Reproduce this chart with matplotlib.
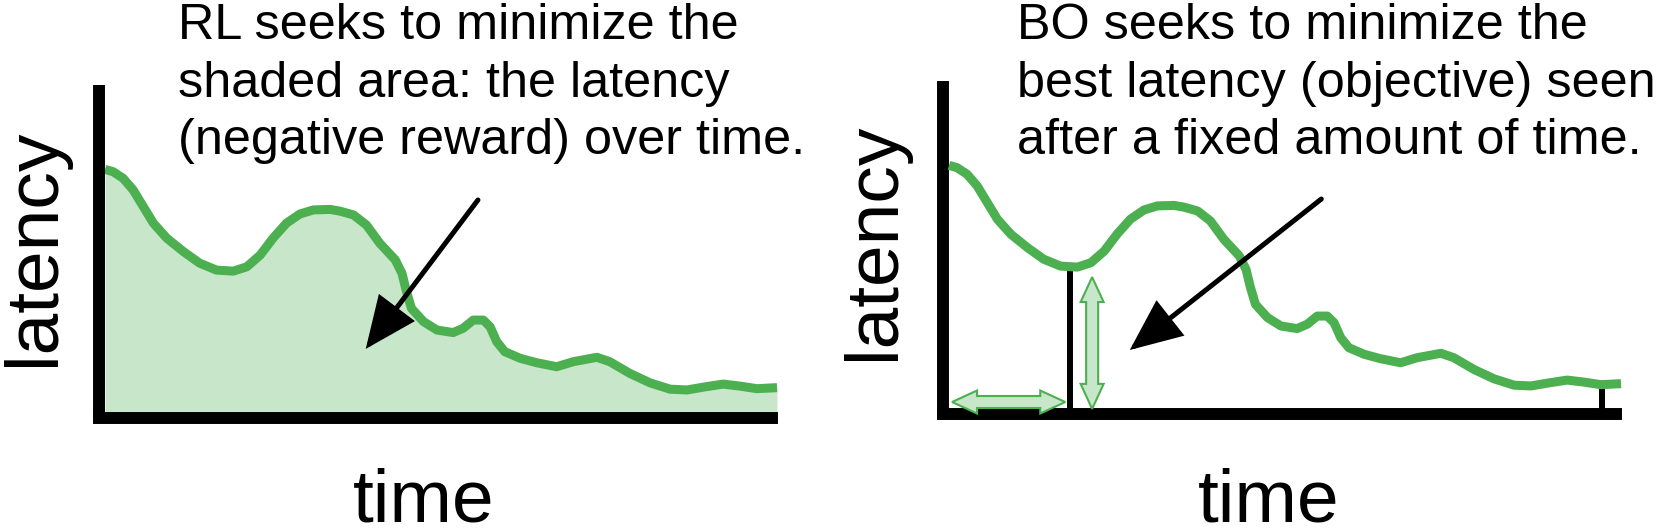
import matplotlib
matplotlib.use('Agg')
import matplotlib.pyplot as plt
import numpy as np
from matplotlib.patches import FancyArrowPatch, Polygon, ArrowStyle
from matplotlib.transforms import IdentityTransform

plt.rcParams['font.family'] = ['Liberation Sans', 'DejaVu Sans']

# ---------------- data ----------------
time_pts = [0.0, 1.2, 2.7, 4.2, 5.7, 7.2, 9.2, 11.7, 14.1, 16.6, 19.1, 21.1,
            23.1, 25.0, 27.0, 29.0, 31.0, 33.5, 35.0, 37.0, 38.9, 40.9, 43.2,
            44.2, 44.8, 45.6, 47.4, 49.4, 51.8, 53.3, 54.8, 56.3, 57.3, 58.3,
            59.5, 61.8, 64.2, 67.2, 69.7, 73.2, 75.1, 78.1, 81.1, 84.1, 86.6,
            89.5, 92.0, 94.5, 97.0, 100.0]
latency_pts = [97.5, 96.6, 94.0, 89.4, 82.9, 76.4, 70.5, 65.2, 60.7, 58.0, 57.6,
               59.3, 63.9, 70.5, 76.4, 80.0, 81.6, 81.8, 81.1, 79.6, 75.7, 68.5,
               62.0, 56.7, 50.2, 43.0, 37.8, 34.5, 33.5, 35.2, 38.4, 38.4, 35.8,
               29.9, 26.0, 23.4, 21.7, 20.1, 22.1, 23.8, 22.1, 17.5, 13.8, 11.3,
               11.0, 12.3, 13.3, 12.5, 11.5, 11.9]

best_time = 18.0          # time at which BO's best latency is seen
budget_end = 97.2         # fixed amount of time

rl_lines = ["RL seeks to minimize the",
            "shaded area: the latency",
            "(negative reward) over time."]
bo_lines = ["BO seeks to minimize the",
            "best latency (objective) seen",
            "after a fixed amount of time."]

rl_arrow = [(55.5, 85.5), (38.8, 27.1)]
bo_arrow = [(55.4, 84.3), (26.9, 25.1)]
h_double_arrow = [(0.45, 4.7), (17.3, 4.7)]
v_double_arrow = [(21.3, 2.0), (21.3, 53.7)]

GREEN = '#4caf50'
LIGHT = '#c8e6c9'

W, H = 1661, 530
fig = plt.figure(figsize=(W / 100, H / 100), dpi=100)


def px_axes(left, right, top, bottom):
    ax = fig.add_axes([left / W, 1 - bottom / H, (right - left) / W, (bottom - top) / H])
    ax.set_xlim(-6 / 6.72, (right - left - 6) / 6.72)
    ax.set_ylim(0, (bottom - top) / 2.55)
    for s in ('top', 'right'):
        ax.spines[s].set_visible(False)
    for s in ('left', 'bottom'):
        ax.spines[s].set_linewidth(8.6)
        ax.spines[s].set_color('black')
    ax.spines['bottom'].set_capstyle('projecting')
    ax.spines['left'].set_capstyle('butt')
    ax.set_xticks([])
    ax.set_yticks([])
    ax.patch.set_alpha(0)
    return ax


def double_arrow(ax, p0, p1):
    a = ax.transData.transform(p0)
    b = ax.transData.transform(p1)
    u = (b - a) / np.linalg.norm(b - a)
    n = np.array([-u[1], u[0]])
    hl, hw, sw = 25, 11.5, 6
    pts = [a, a + u * hl + n * hw, a + u * hl + n * sw, b - u * hl + n * sw,
           b - u * hl + n * hw, b, b - u * hl - n * hw, b - u * hl - n * sw,
           a + u * hl - n * sw, a + u * hl - n * hw]
    poly = Polygon(pts, closed=True, facecolor=LIGHT, edgecolor=GREEN,
                   linewidth=1.5, transform=IdentityTransform(), clip_on=False,
                   zorder=4)
    ax.add_patch(poly)


def black_arrow(ax, p0, p1):
    arr = FancyArrowPatch(posA=p0, posB=p1,
                          arrowstyle=ArrowStyle('-|>', head_length=31, head_width=13.5),
                          mutation_scale=1, lw=3.6, color='black',
                          shrinkA=0, shrinkB=0, zorder=6, joinstyle='miter')
    ax.add_patch(arr)


t = np.array(time_pts)
lat = np.array(latency_pts)

# ---------------- left panel (RL) ----------------
ax1 = px_axes(99, 772, 85, 418)
ax1.fill_between(t, 0, lat, color=LIGHT, linewidth=0, zorder=1, clip_on=False)
ax1.plot(t, lat, color=GREEN, lw=6.5, solid_joinstyle='round',
         solid_capstyle='butt', zorder=2, clip_on=False)
black_arrow(ax1, *rl_arrow)

# ---------------- right panel (BO) ----------------
ax2 = px_axes(943, 1616, 81, 414)
ax2.plot(t, lat, color=GREEN, lw=6.5, solid_joinstyle='round',
         solid_capstyle='butt', zorder=3, clip_on=False)
best_lat = np.interp(best_time, t, lat)
end_lat = np.interp(budget_end, t, lat)
ax2.plot([best_time, best_time], [0, best_lat], color='black', lw=4.3, zorder=2,
         solid_capstyle='butt')
ax2.plot([budget_end, budget_end], [0, end_lat], color='black', lw=4.3, zorder=2,
         solid_capstyle='butt')
double_arrow(ax2, *h_double_arrow)
double_arrow(ax2, *v_double_arrow)
black_arrow(ax2, *bo_arrow)

# ---------------- text ----------------
FS = 36.3
baselines = [39, 97, 154]
for line, yb in zip(rl_lines, baselines):
    fig.text(178 / W, 1 - yb / H, line, fontsize=FS, ha='left', va='baseline')
for line, yb in zip(bo_lines, baselines):
    fig.text(1017 / W, 1 - yb / H, line, fontsize=FS, ha='left', va='baseline')

LFS = 54
fig.text(54 / W, 1 - 247 / H, 'latency', fontsize=LFS, rotation=90,
         rotation_mode='anchor', ha='center', va='baseline')
fig.text(894 / W, 1 - 241 / H, 'latency', fontsize=LFS, rotation=90,
         rotation_mode='anchor', ha='center', va='baseline')
fig.text(424 / W, 1 - 522 / H, 'time', fontsize=LFS, ha='center', va='baseline')
fig.text(1269 / W, 1 - 522 / H, 'time', fontsize=LFS, ha='center', va='baseline')

fig.savefig('out.png', dpi=100, facecolor='white')
